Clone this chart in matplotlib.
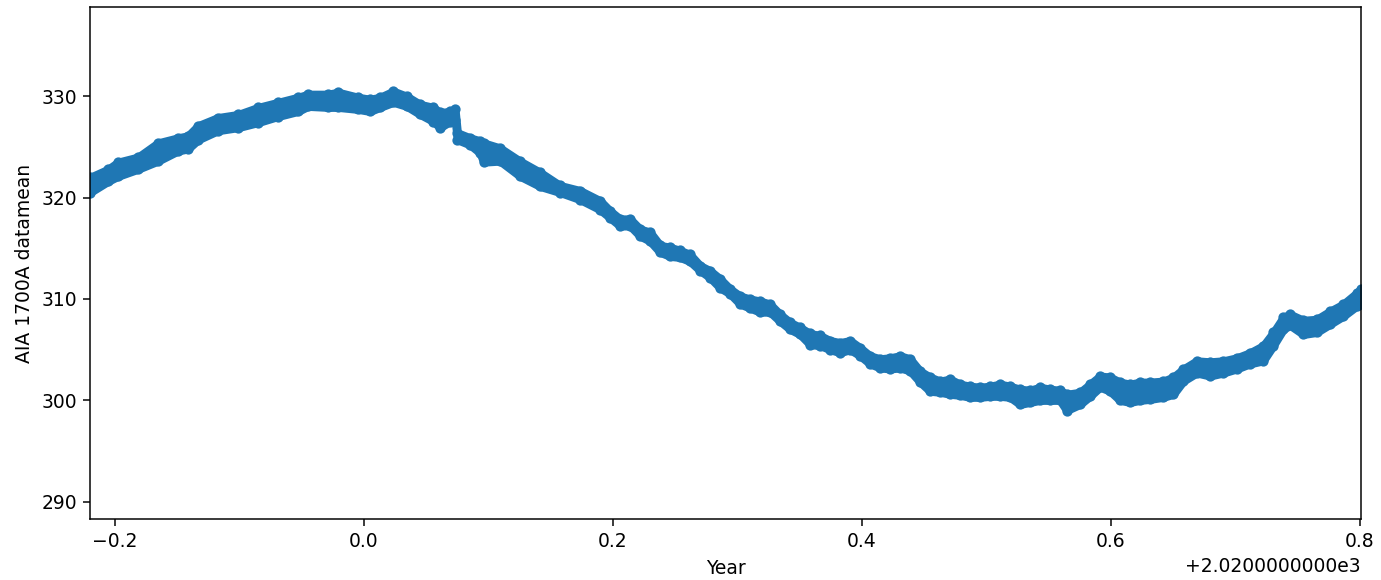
import matplotlib

matplotlib.use("Agg")
import matplotlib.pyplot as plt
from matplotlib.ticker import ScalarFormatter

# envelope of the scattered AIA 1700A datamean values
YEAR = [
    2019.7799, 2019.7944, 2019.8024, 2019.8185, 2019.8345, 2019.8506, 2019.8586,
    2019.8667, 2019.8827, 2019.8988, 2019.9149, 2019.9309, 2019.9470, 2019.9550,
    2019.9711, 2019.9791, 2019.9952, 2020.0048, 2020.0129, 2020.0235, 2020.0343,
    2020.0450, 2020.0557, 2020.0610, 2020.0691, 2020.0731, 2020.0750, 2020.0851,
    2020.0932, 2020.0960, 2020.1092, 2020.1253, 2020.1414, 2020.1574, 2020.1735,
    2020.1896, 2020.1976, 2020.2056, 2020.2137, 2020.2217, 2020.2297, 2020.2378,
    2020.2458, 2020.2538, 2020.2618, 2020.2699, 2020.2779, 2020.2859, 2020.2940,
    2020.3020, 2020.3100, 2020.3181, 2020.3261, 2020.3341, 2020.3422, 2020.3502,
    2020.3582, 2020.3663, 2020.3743, 2020.3823, 2020.3904, 2020.3984, 2020.4064,
    2020.4145, 2020.4225, 2020.4305, 2020.4386, 2020.4466, 2020.4546, 2020.4627,
    2020.4707, 2020.4787, 2020.4867, 2020.4948, 2020.5028, 2020.5108, 2020.5189,
    2020.5269, 2020.5349, 2020.5430, 2020.5510, 2020.5590, 2020.5644, 2020.5751,
    2020.5831, 2020.5912, 2020.5992, 2020.6072, 2020.6153, 2020.6233, 2020.6313,
    2020.6420, 2020.6501, 2020.6581, 2020.6688, 2020.6795, 2020.6902, 2020.7010,
    2020.7116, 2020.7223, 2020.7304, 2020.7384, 2020.7438, 2020.7545, 2020.7652,
    2020.7759, 2020.7866, 2020.7974, 2020.8008,
]
DATAMEAN_HI = [
    322.0, 322.8, 323.5, 324.0, 325.4, 325.9, 326.1,
    327.1, 327.9, 328.2, 328.9, 329.4, 329.9, 330.2,
    330.2, 330.4, 329.9, 329.7, 329.9, 330.5, 330.0,
    329.2, 328.9, 328.4, 328.5, 328.7, 326.4, 325.9,
    325.6, 325.4, 324.9, 323.6, 322.5, 321.2, 320.7,
    319.7, 318.7, 317.9, 317.9, 316.9, 316.6, 315.3,
    315.1, 314.8, 314.4, 313.3, 312.8, 312.0, 311.0,
    310.3, 310.0, 309.8, 309.5, 308.5, 307.7, 307.2,
    306.6, 306.4, 305.9, 305.7, 305.9, 305.2, 304.4,
    304.1, 304.2, 304.4, 304.1, 302.9, 302.3, 301.9,
    302.1, 301.6, 301.4, 301.3, 301.4, 301.6, 301.4,
    301.1, 301.0, 301.3, 301.1, 301.0, 300.6, 300.8,
    301.6, 302.4, 302.3, 301.8, 301.6, 301.8, 301.8,
    301.9, 302.3, 303.1, 303.9, 303.8, 303.9, 304.2,
    304.7, 305.4, 306.7, 308.2, 308.5, 307.9, 308.0,
    308.8, 309.5, 310.6, 311.0,
]
DATAMEAN_LO = [
    320.5, 321.6, 322.1, 322.8, 323.6, 324.6, 324.8,
    325.7, 326.6, 326.9, 327.4, 328.0, 328.5, 329.0,
    328.9, 328.9, 328.7, 328.5, 328.9, 329.4, 329.0,
    328.2, 327.5, 326.9, 327.5, 327.7, 325.7, 325.2,
    324.4, 323.5, 323.6, 322.1, 321.1, 320.5, 319.8,
    318.8, 318.0, 317.2, 317.2, 316.2, 315.7, 314.6,
    314.2, 314.1, 313.7, 312.8, 312.1, 311.1, 310.5,
    309.5, 309.1, 308.7, 308.7, 307.8, 307.0, 306.5,
    305.5, 305.4, 305.0, 304.7, 305.0, 304.4, 303.6,
    303.2, 303.1, 303.2, 302.9, 301.8, 300.9, 300.8,
    300.6, 300.5, 300.3, 300.3, 300.4, 300.4, 300.3,
    299.6, 299.8, 300.0, 300.0, 300.0, 299.0, 299.6,
    300.4, 301.3, 300.9, 300.0, 299.8, 300.0, 300.1,
    300.3, 300.6, 301.9, 302.7, 302.4, 302.7, 303.1,
    303.6, 303.9, 305.4, 307.0, 307.4, 306.5, 306.7,
    307.5, 308.3, 309.3, 309.5,
]

C = "C0"
DPI = 135


class _OldOffset(ScalarFormatter):
    # offset string in the long "%1.10e" style, e.g. +2.0200000000e3
    def get_offset(self):
        if not self.offset:
            return ""
        mant, exp = ("%1.10e" % self.offset).split("e")
        return "+" + mant + "e" + str(int(exp))


fig = plt.figure(figsize=(1381 / DPI, 580 / DPI), dpi=DPI)
ax = fig.add_axes([0.0652, 0.1052, 0.9203, 0.8827])

ax.fill_between(YEAR, DATAMEAN_LO, DATAMEAN_HI, color=C, lw=4.3, edgecolor=C)
ax.scatter(YEAR, DATAMEAN_HI, color=C, s=20)
ax.scatter(YEAR, DATAMEAN_LO, color=C, s=20)

fmt = _OldOffset(useOffset=2020)
ax.xaxis.set_major_formatter(fmt)
ax.set_xlim(2019.7799, 2020.8008)
ax.set_ylim(288.3, 338.8)
ax.set_yticks([290, 300, 310, 320, 330])
ax.set_xlabel("Year")
ax.set_ylabel("AIA 1700A datamean")

fig.savefig("out.png", dpi=DPI)
